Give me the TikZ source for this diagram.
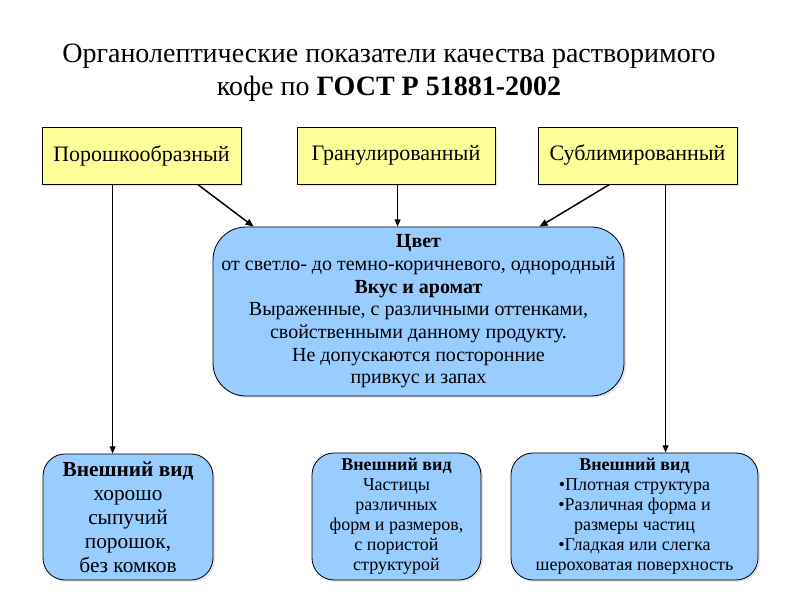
\documentclass[tikz,border=0pt]{standalone}
\usepackage{fontspec}
\setmainfont{Liberation Serif}
\usetikzlibrary{calc,arrows.meta,backgrounds,shadows}
\definecolor{yellowfill}{HTML}{FFFF99}
\definecolor{bluefill}{HTML}{99CCFF}
\begin{document}
\begin{tikzpicture}[x=0.75pt,y=-0.75pt,
  shade/.style={drop shadow={shadow xshift=1.5pt,shadow yshift=-1.5pt,opacity=0.2}},
  ybox/.style={draw=black,line width=0.6pt,fill=yellowfill,shade,minimum height=42.75pt,inner sep=0pt,
    font=\fontsize{16.5}{19}\selectfont},
  bbox/.style={draw=black,line width=0.6pt,fill=bluefill,shade,inner sep=0pt,align=center,rounded corners=16.5pt},
  conn/.style={line width=0.8pt,-{Triangle[length=5.5pt,width=4.5pt]}},
  dconn/.style={line width=1.1pt,-{Triangle[length=6pt,width=5pt]}}]
\useasboundingbox[fill=white] (0,0) rectangle (794,595);

\node[align=center,font=\fontsize{21}{24.75}\selectfont] (title) at (389,73)
  {Органолептические показатели качества растворимого\\кофе по \textbf{ГОСТ Р 51881-2002}};

\node[ybox,minimum width=149.25pt] (box1) at (141.5,155.5) {Порошкообразный};
\node[ybox,minimum width=148.5pt] (box2) at (396,155.5) {Гранулированный};
\node[ybox,minimum width=149.25pt] (box3) at (637.5,155.5) {Сублимированный};

\node[bbox,minimum width=308.25pt,minimum height=126.75pt,rounded corners=24.75pt,
  font=\fontsize{15}{17}\selectfont] (mid) at (418.5,311.5)
  {\textbf{Цвет}\\от светло- до темно-коричневого, однородный\\\textbf{Вкус и аромат}\\
   Выраженные, с различными оттенками,\\свойственными данному продукту.\\
   Не допускаются посторонние\\привкус и запах};

\node[bbox,minimum width=127.5pt,minimum height=94.5pt,font=\fontsize{16}{18}\selectfont] (botL) at (128,517)
  {\textbf{Внешний вид}\\хорошо\\сыпучий\\порошок,\\без комков};
\node[bbox,minimum width=126.75pt,minimum height=95.25pt,font=\fontsize{13.5}{15}\selectfont] (botM) at (396.5,516.5)
  {\textbf{Внешний вид}\\Частицы\\различных\\форм и размеров,\\с пористой\\структурой};
\node[bbox,minimum width=185.25pt,minimum height=95.25pt,font=\fontsize{13.5}{15}\selectfont] (botR) at (634.5,516.5)
  {\textbf{Внешний вид}\\•Плотная структура\\•Различная форма и\\размеры частиц\\•Гладкая или слегка\\шероховатая поверхность};

\coordinate (a1) at ($(box1.south west)+(71,0)$);
\coordinate (a2) at ($(box1.south west)+(156,0)$);
\coordinate (m2) at ($(mid.north west)+(41,0)$);
\coordinate (b1) at ($(box2.south west)+(101,0)$);
\coordinate (b2) at ($(box2.south west)+(143,0)$);
\coordinate (c1) at ($(box3.south west)+(72,0)$);
\coordinate (m3) at ($(mid.north west)+(327,0)$);
\coordinate (c2) at ($(box3.south west)+(128,0)$);

\draw[conn] (a1) -- (a1 |- botL.north);
\draw[dconn] (a2) -- (m2);
\draw[conn] (b1) -- (b1 |- mid.north);
\begin{scope}[on background layer]
\draw[conn] (b2) -- (b2 |- botM.north);
\end{scope}
\draw[dconn] (c1) -- (m3);
\draw[conn] (c2) -- (c2 |- botR.north);
\end{tikzpicture}
\end{document}
